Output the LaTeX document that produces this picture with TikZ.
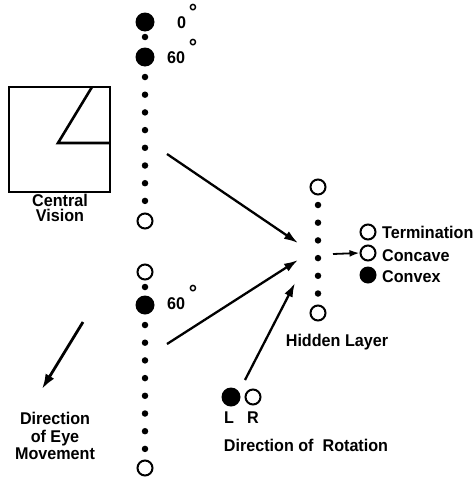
\documentclass[tikz,border=0pt]{standalone}
\usepackage{fontspec}
\setmainfont[FakeStretch=0.95]{Liberation Sans}
\usetikzlibrary{arrows.meta}
\begin{document}
\begin{tikzpicture}[x=1pt,y=-1pt,
  bigdot/.style={circle,fill=black,minimum size=19pt,inner sep=0pt},
  smalldot/.style={circle,fill=black,minimum size=6.5pt,inner sep=0pt},
  opendot/.style={circle,draw,line width=2pt,minimum size=15pt,inner sep=0pt},
  lbl/.style={font=\bfseries\fontsize{17}{16}\selectfont,inner sep=0pt,align=center},
  conn/.style={line width=2.3pt,-{Latex[length=14pt,width=9pt]}},
  deg/.style={font=\bfseries\fontsize{22}{22}\selectfont,inner sep=0pt}]
\useasboundingbox (0,0) rectangle (476,479);

% upper input column
\node[bigdot] (u0) at (145,22) {};
\node[smalldot] (ud) at (145,37) {};
\node[bigdot] (u60) at (145,57) {};
\foreach \i in {0,...,7} \node[smalldot] (ux\i) at (145,77+17.7*\i) {};
\node[opendot] (uend) at (145,221) {};
\node[lbl,anchor=west] (l0) at (177,23) {0};
\node[deg] (l0d) at (193,12) {°};
\node[lbl,anchor=west] (l60) at (167,58) {60};
\node[deg] (l60d) at (193,47) {°};

% lower input column
\node[opendot] (lbeg) at (145,272) {};
\node[smalldot] (ld) at (145,287) {};
\node[bigdot] (l60b) at (145,305) {};
\foreach \i in {0,...,7} \node[smalldot] (lx\i) at (145,325+17.7*\i) {};
\node[opendot] (lend) at (145,468) {};
\node[lbl,anchor=west] (m60) at (167,304) {60};
\node[deg] (m60d) at (193,293) {°};

% central vision window
\node[draw,line width=2pt,minimum width=101pt,minimum height=105pt,inner sep=0pt] (win) at (59.5,139.5) {};
\coordinate (wtop) at (92,87);
\coordinate (wmid) at (58,143);
\coordinate (wright) at (110,143);
\draw[line width=2.6pt] (wtop) -- (wmid) -- (wright);
\node[lbl,font=\bfseries\fontsize{17}{15.5}\selectfont] (cv) at (60,208) {Central\\Vision};

% eye movement
\coordinate (e1) at (83,322);
\coordinate (e2) at (42,389);
\draw[line width=2.8pt,-{Latex[length=15pt,width=10pt]}] (e1) -- (e2);
\node[lbl,font=\bfseries\fontsize{17}{17.5}\selectfont] (em) at (55,436) {Direction\\of Eye\\Movement};

% hidden layer
\node[opendot] (hbeg) at (318,187) {};
\foreach \i in {0,...,5} \node[smalldot] (hx\i) at (318,205+17.7*\i) {};
\node[opendot] (hend) at (318,313) {};
\node[lbl] (hl) at (337,342) {Hidden Layer};

% outputs
\node[opendot] (oterm) at (368,232) {};
\node[opendot] (oconc) at (368,253) {};
\node[bigdot,minimum size=17pt] (oconv) at (368,275) {};
\node[lbl,anchor=west] (tterm) at (382,232) {Termination};
\node[lbl,anchor=west] (tconc) at (382,256) {Concave};
\node[lbl,anchor=west] (tconv) at (382,277) {Convex};
\coordinate (os) at (333,254);
\draw[line width=1.8pt,-{Latex[length=10pt,width=7pt]}] (os) -- (oconc.west);

% rotation inputs
\node[bigdot] (rl) at (231,397) {};
\node[opendot] (rr) at (253,397) {};
\node[lbl] (tl) at (229,418) {L};
\node[lbl] (tr) at (253,418) {R};
\node[lbl] (dr) at (306,445) {Direction of\ \ Rotation};

% projections into the hidden layer
\coordinate (a1s) at (167,154);
\coordinate (a1e) at (298,243);
\coordinate (a2s) at (167,344);
\coordinate (a2e) at (298,260);
\coordinate (a3s) at (245,380);
\coordinate (a3e) at (295,283);
\draw[conn] (a1s) -- (a1e);
\draw[conn] (a2s) -- (a2e);
\draw[conn] (a3s) -- (a3e);
\end{tikzpicture}
\end{document}
